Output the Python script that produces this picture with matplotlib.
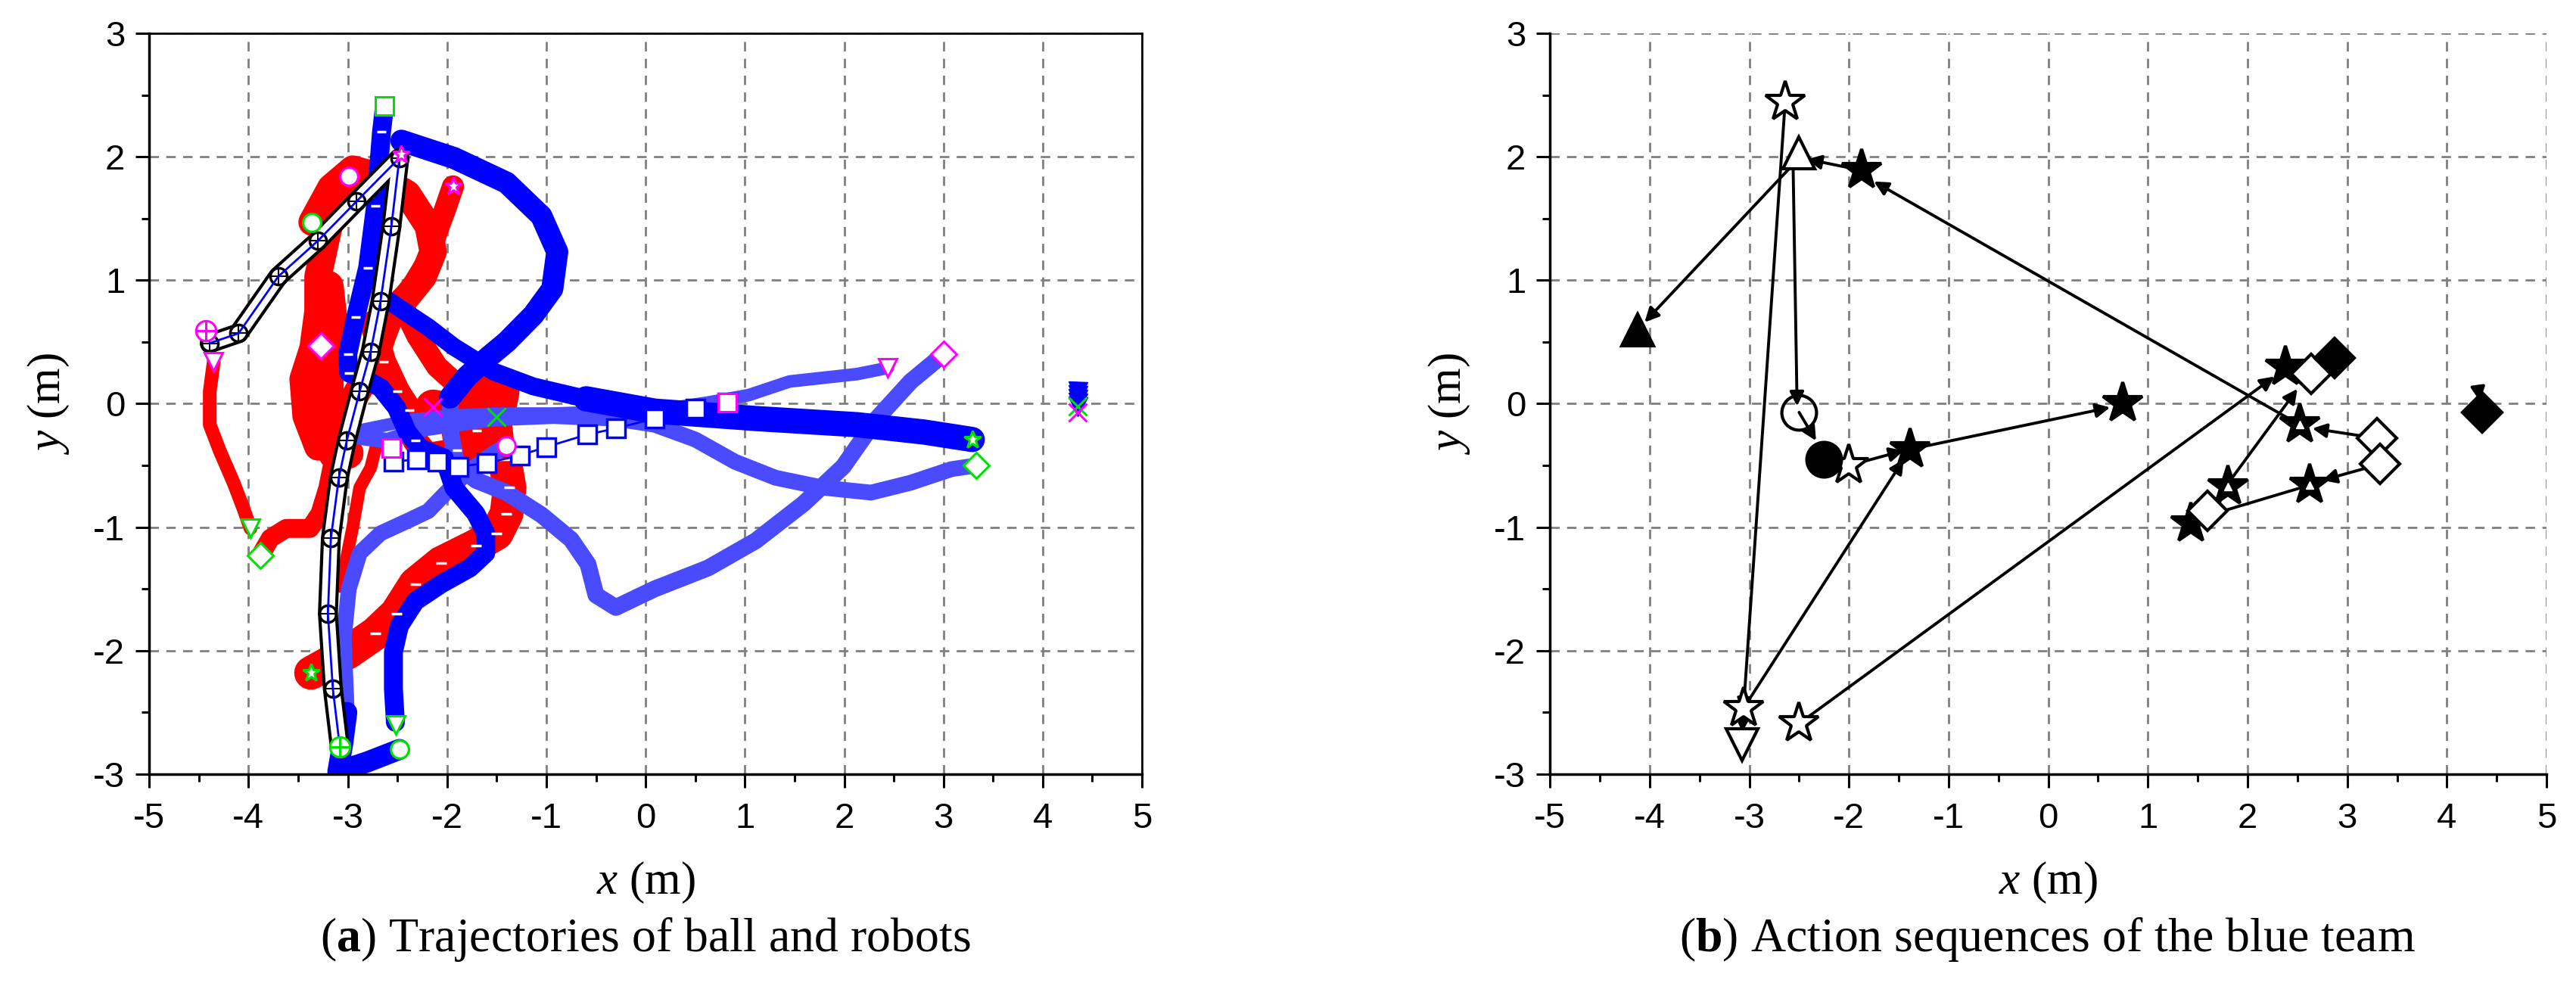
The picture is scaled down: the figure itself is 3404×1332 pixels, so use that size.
import numpy as np
import matplotlib
matplotlib.use("Agg")
import matplotlib.pyplot as plt
from matplotlib.ticker import MultipleLocator

plt.rcParams['font.family'] = ['Liberation Sans', 'DejaVu Sans']
plt.rcParams['axes.unicode_minus'] = False
plt.rcParams['mathtext.fontset'] = 'custom'
plt.rcParams['mathtext.rm'] = 'Liberation Serif'
plt.rcParams['mathtext.it'] = 'Liberation Serif:italic'
plt.rcParams['mathtext.bf'] = 'Liberation Serif:bold'

# ---------------- (a) trajectories ----------------
# red team
red_tri = [(-4.35, 0.34), (-4.39, 0.1), (-4.39, -0.17), (-4.29, -0.38), (-4.15, -0.64),
           (-4.05, -0.85), (-3.98, -1.01)]
red_dia = [(-3.88, -1.23), (-3.78, -1.09), (-3.62, -1.01), (-3.38, -1.01), (-3.28, -0.89),
           (-3.20, -0.68), (-3.15, -0.48), (-3.3, -0.3), (-3.4, 0.0), (-3.38, 0.3), (-3.27, 0.47)]
red_cir = [(-3.36, 1.47), (-3.17, 1.75), (-2.95, 1.9), (-2.72, 1.85), (-2.40, 1.70), (-2.19, 1.44),
           (-2.14, 1.23), (-2.24, 1.03), (-2.40, 0.87), (-2.56, 0.74), (-2.65, 0.55), (-2.75, 0.3),
           (-2.9, 0.1), (-3.1, -0.2), (-3.3, -0.35), (-3.42, -0.1), (-3.45, 0.2), (-3.35, 0.45),
           (-3.3, 0.75), (-3.3, 1.03), (-3.2, 1.4), (-3.1, 1.7), (-2.99, 1.84)]
red_blob = [(-3.2, 0.95), (-3.15, 0.6), (-3.2, 0.2), (-3.2, -0.2), (-3.0, -0.4)]
red_star_low = [(-3.37, -2.18), (-2.99, -2.01), (-2.72, -1.86), (-2.51, -1.70), (-2.32, -1.46),
                (-2.06, -1.29), (-1.71, -1.15), (-1.50, -1.05), (-1.40, -0.89), (-1.37, -0.68),
                (-1.42, -0.45)]
red_star_up = [(-1.42, -0.45), (-1.45, -0.2), (-1.6, 0.0), (-1.85, 0.12), (-2.1, 0.3), (-2.3, 0.55),
               (-2.45, 0.8), (-2.35, 0.95), (-2.2, 1.15), (-2.1, 1.4), (-2.03, 1.55), (-1.94, 1.76)]
red_sq = [(-2.75, 0.65), (-2.64, 0.34), (-2.5, 0.1), (-2.38, -0.05), (-2.32, -0.3), (-2.2, -0.42),
          (-1.9, -0.38), (-1.7, -0.22)]
red_plus = [(-3.07, -1.48), (-2.95, -1.0), (-2.88, -0.68), (-2.77, -0.52), (-2.7, -0.3)]
red_x = [(-1.50, -0.11), (-1.45, 0.1), (-1.6, 0.15), (-1.8, 0.1), (-1.9, -0.1), (-1.85, -0.35),
         (-1.7, -0.42), (-1.55, -0.3), (-1.75, -0.1), (-2.14, -0.03)]

# blue team
blue_loop = [(-2.46, 2.13), (-1.93, 1.99), (-1.40, 1.79), (-1.05, 1.52), (-0.89, 1.23), (-0.94, 0.93),
             (-1.13, 0.72), (-1.40, 0.50), (-1.58, 0.38), (-1.8, 0.22), (-1.97, 0.05)]
blue_dia = [(-1.97, 0.05), (-1.96, -0.25), (-1.90, -0.5), (-1.71, -0.62), (-1.4, -0.72), (-1.05, -0.9),
            (-0.75, -1.1), (-0.58, -1.3), (-0.50, -1.55), (-0.3, -1.65), (0.09, -1.50), (0.63, -1.33),
            (1.11, -1.11), (1.59, -0.81), (1.99, -0.51), (2.33, -0.12), (2.67, 0.18), (3.0, 0.40)]
blue_star_a = [(-2.62, 0.85), (-2.19, 0.62), (-1.93, 0.46), (-1.53, 0.26), (-1.13, 0.14), (-0.60, 0.04)]
blue_star_b = [(-0.60, 0.04), (0.09, -0.06), (1.11, -0.12), (2.13, -0.17), (2.81, -0.23), (3.29, -0.29)]
blue_sq = [(-2.63, 2.41), (-2.66, 2.2), (-2.72, 1.6), (-2.80, 1.1), (-2.92, 0.7), (-3.0, 0.4),
           (-2.99, 0.25), (-2.83, 0.2), (-2.67, 0.13), (-2.51, -0.03), (-2.40, -0.23), (-2.27, -0.36),
           (-2.03, -0.44), (-1.93, -0.68), (-1.71, -0.89), (-1.61, -1.05), (-1.61, -1.21), (-1.77, -1.33),
           (-2.06, -1.46), (-2.32, -1.60), (-2.48, -1.80), (-2.54, -2.01), (-2.54, -2.31), (-2.52, -2.58)]
blue_cir = [(-3.01, -2.5), (-3.04, -1.9), (-2.99, -1.50), (-2.88, -1.21), (-2.67, -1.05), (-2.40, -0.95),
            (-2.19, -0.87), (-2.01, -0.72), (-1.77, -0.54), (-1.53, -0.40), (-1.40, -0.34)]
blue_bot = [(-2.48, -2.80), (-2.8, -2.9), (-3.1, -2.98), (-3.05, -2.75), (-3.01, -2.5)]
blue_bigsq = [(0.82, 0.01), (0.5, -0.04), (0.09, -0.12), (-0.3, -0.2), (-0.59, -0.25), (-1.0, -0.35),
              (-1.27, -0.42), (-1.6, -0.48), (-1.88, -0.51), (-2.1, -0.47), (-2.3, -0.45), (-2.54, -0.47)]
blue_tri = [(2.44, 0.29), (2.13, 0.24), (1.45, 0.18), (1.04, 0.07), (0.63, 0.01), (0.22, -0.04),
            (-0.25, -0.06), (-0.93, -0.08), (-1.54, -0.08), (-2.0, -0.1), (-2.35, -0.13), (-2.72, -0.19),
            (-2.9, -0.22)]
blue_dia2 = [(3.33, -0.50), (3.08, -0.53), (2.67, -0.64), (2.27, -0.72), (1.79, -0.68), (1.31, -0.60),
             (0.90, -0.47), (0.50, -0.29), (0.09, -0.17), (-0.32, -0.12), (-0.93, -0.10), (-1.54, -0.12),
             (-2.22, -0.2), (-2.6, -0.3), (-2.88, -0.27)]
goalie_y = [0.10, 0.07, 0.04, 0.01, -0.02]
goalie_x = 4.35

ball = [(-4.39, 0.49), (-4.10, 0.57), (-3.70, 1.03), (-3.30, 1.32), (-2.91, 1.64), (-2.48, 1.99),
        (-2.56, 1.44), (-2.67, 0.83), (-2.77, 0.42), (-2.88, 0.1), (-3.01, -0.3), (-3.09, -0.6),
        (-3.17, -1.09), (-3.20, -1.70), (-3.15, -2.31), (-3.08, -2.78)]

# start (green) / end (magenta) marks: (x, y, marker)
green_marks = [(-3.98, -1.01, 'v'), (-3.88, -1.23, 'D'), (-3.36, 1.47, 'o'), (-3.37, -2.18, '*'),
               (-1.50, -0.11, 'x'), (-2.63, 2.41, 's'), (3.29, -0.29, '*'), (3.33, -0.50, 'D'),
               (-2.52, -2.60, 'v'), (-2.48, -2.80, 'o'), (4.35, -0.02, 'x')]
magenta_marks = [(-4.35, 0.34, 'v'), (-3.27, 0.47, 'D'), (-2.99, 1.84, 'o'), (-1.94, 1.76, '*'),
                 (-2.14, -0.03, 'x'), (3.0, 0.40, 'D'), (2.44, 0.29, 'v'), (0.82, 0.01, 's'),
                 (-2.56, -0.36, 's'), (-1.40, -0.34, 'o'), (-2.46, 2.02, '*'), (4.35, -0.07, 'x')]
ball_start = (-3.08, -2.78)
ball_end = (-4.43, 0.59)

# ---------------- (b) action sequences ----------------
star_open = [(-2.64, 2.44), (-2.0, -0.50), (-3.06, -2.47), (-2.50, -2.59)]
star_fill = [(-1.87, 1.89), (-1.39, -0.37), (0.75, 0.0), (2.38, 0.30), (2.52, -0.17),
             (2.62, -0.66), (1.80, -0.67), (1.43, -0.97)]
star_inner = [(2.52, -0.17), (2.62, -0.66), (1.80, -0.67)]
tri_open = [(-2.50, 2.03)]
tri_fill = [(-4.12, 0.60)]
circ_open = [(-2.50, -0.07)]
circ_fill = [(-2.25, -0.45)]
tri_down_open = [(-3.07, -2.76)]
dia_open = [(2.64, 0.24), (3.30, -0.28), (3.33, -0.49), (1.60, -0.87)]
dia_fill = [(2.87, 0.37), (4.35, -0.07)]
# arrows: (x_from, y_from, x_to, y_to)
moves = [(-2.64, 2.44, -3.06, -2.50), (-2.56, 1.92, -2.52, -0.02), (-2.58, 1.92, -4.05, 0.66),
         (-1.87, 1.89, -2.42, 1.98), (2.52, -0.17, -1.75, 1.80), (-3.06, -2.47, -1.45, -0.45),
         (-2.0, -0.50, -1.45, -0.38), (-1.39, -0.37, 0.62, -0.03), (-2.50, -2.59, 2.27, 0.22),
         (3.30, -0.28, 2.65, -0.20), (3.33, -0.49, 2.75, -0.62), (2.62, -0.66, 1.50, -0.93),
         (1.60, -0.87, 2.50, 0.12), (-2.50, -0.07, -2.33, -0.30), (-3.06, -2.47, -3.07, -2.66),
         (4.31, 0.14, 4.33, 0.02), (1.60, -0.87, 1.76, -0.74)]


fig = plt.figure(figsize=(34.05, 13.32), dpi=100)
axa = fig.add_axes([0.0579, 0.232, 0.3853, 0.735])
axb = fig.add_axes([0.6015, 0.232, 0.3868, 0.735])

LB = '#0000ff'
LL = '#4a4aff'


def band(ax, pts, color, lw, z=2):
    p = np.array(pts)
    ax.plot(p[:, 0], p[:, 1], '-', color=color, lw=lw, solid_capstyle='round',
            solid_joinstyle='round', zorder=z)


def dots(ax, pts, color, marker, ms, z=3, mfc='none', mew=1.5):
    p = np.array(pts)
    ax.plot(p[:, 0], p[:, 1], ls='none', marker=marker, ms=ms, mec=color, mfc=mfc, mew=mew, zorder=z)


# red team
band(axa, red_cir, 'red', 26)
band(axa, red_blob, 'red', 30)
band(axa, red_dia, 'red', 18)
band(axa, red_tri, 'red', 13)
band(axa, red_star_low, 'red', 32)
band(axa, red_star_up, 'red', 21)
band(axa, red_sq, 'red', 24)
dots(axa, red_sq, 'white', '_', 9, z=3, mew=2.5)
band(axa, red_plus, 'red', 12)
band(axa, red_x, 'red', 34)
dots(axa, red_star_low[2:], 'white', '_', 10, z=3, mew=2.5)

# blue team
band(axa, blue_dia, LL, 16)
band(axa, blue_dia2, LL, 15)
band(axa, blue_tri, LL, 12)
band(axa, blue_cir, LL, 15)
band(axa, blue_loop, LB, 21)
band(axa, blue_star_a, LB, 17)
band(axa, blue_star_b, LB, 24)
band(axa, blue_sq, LB, 18)
dots(axa, blue_sq[1:7], 'white', '_', 9, z=3, mew=2.5)
band(axa, blue_bot, LB, 20)
p = np.array(blue_bigsq)
axa.plot(p[:, 0], p[:, 1], '-', color=LB, lw=2, zorder=3)
axa.plot(p[:, 0], p[:, 1], ls='none', marker='s', ms=17, mfc='white', mec=LB, mew=2.5, zorder=3)
axa.plot([goalie_x] * len(goalie_y), goalie_y, ls='none', marker='v', ms=18, color=LB, zorder=3)

# ball
p = np.array(ball)
axa.plot(p[:, 0], p[:, 1], '-', color='black', lw=19, solid_capstyle='round', zorder=4)
axa.plot(p[:, 0], p[:, 1], '-', color='white', lw=13, solid_capstyle='round', zorder=4)
axa.plot(p[:, 0], p[:, 1], ls='none', marker='o', ms=16, mfc='none', mec='black', mew=2.5, zorder=4)
axa.plot(p[:, 0], p[:, 1], ls='none', marker='+', ms=14, color='black', mew=1.5, zorder=4)
axa.plot(p[:, 0], p[:, 1], '-', color=LB, lw=2, zorder=4)

for x, y, m in green_marks:
    axa.plot(x, y, marker=m, ms=17, mfc='white', mec='#00e000', mew=2.2, zorder=5)
for x, y, m in magenta_marks:
    axa.plot(x, y, marker=m, ms=17, mfc='white', mec='#ff00ff', mew=2.2, zorder=5)
for (x, y), c in [(ball_start, '#00e000'), (ball_end, '#ff00ff')]:
    axa.plot(x, y, marker='o', ms=19, mfc='white', mec=c, mew=2.2, zorder=5)
    axa.plot(x, y, marker='+', ms=19, mfc='none', mec=c, mew=2.2, zorder=5)

# (b)
for x0, y0, x1, y1 in moves:
    axb.annotate('', xy=(x1, y1), xytext=(x0, y0),
                 arrowprops=dict(arrowstyle='-|>', color='black', lw=2.8, mutation_scale=28,
                                 shrinkA=0, shrinkB=0), zorder=2)
dots(axb, star_open, 'black', '*', 40, z=4, mfc='white', mew=3)
dots(axb, star_fill, 'black', '*', 40, z=4, mfc='black', mew=3)
dots(axb, star_inner, 'white', '^', 7, z=5, mfc='white', mew=1)
dots(axb, tri_open, 'black', '^', 30, z=4, mfc='white', mew=3)
dots(axb, tri_fill, 'black', '^', 30, z=4, mfc='black', mew=3)
dots(axb, circ_open, 'black', 'o', 33, z=4, mfc='none', mew=3)
dots(axb, circ_fill, 'black', 'o', 33, z=4, mfc='black', mew=3)
dots(axb, tri_down_open, 'black', 'v', 30, z=4, mfc='white', mew=3)
dots(axb, dia_open, 'black', 'D', 26, z=4, mfc='white', mew=3)
dots(axb, dia_fill, 'black', 'D', 26, z=4, mfc='black', mew=3)

for ax in (axa, axb):
    ax.set_xlim(-5, 5)
    ax.set_ylim(-3, 3)
    ax.xaxis.set_major_locator(MultipleLocator(1))
    ax.yaxis.set_major_locator(MultipleLocator(1))
    ax.xaxis.set_minor_locator(MultipleLocator(0.5))
    ax.yaxis.set_minor_locator(MultipleLocator(0.5))
    ax.grid(True, which='major', color='#808080', ls=(0, (4.5, 3.5)), lw=2)
    ax.set_axisbelow(True)
    ax.tick_params(which='major', direction='out', length=13, width=2.2, labelsize=34, pad=10,
                   top=False, right=False)
    ax.tick_params(which='minor', direction='out', length=7, width=2.2, top=False, right=False)
    ax.tick_params(axis='x', which='major', pad=14)
    ax.set_xlabel('$x$ (m)', fontsize=44, family='Liberation Serif', va='center')
    ax.set_ylabel('$y$ (m)', fontsize=44, family='Liberation Serif', va='center')
    ax.xaxis.set_label_coords(0.5, -0.146)
    ax.yaxis.set_label_coords(-0.101, 0.5)
    ax.spines['left'].set_linewidth(2.5)
    ax.spines['bottom'].set_linewidth(2.5)

axa.spines['top'].set_linewidth(2)
axa.spines['right'].set_linewidth(2)
axb.spines['top'].set_visible(False)
axb.spines['right'].set_visible(False)

fig.text(0.2505, 0.0676, r'($\mathbf{a}$) Trajectories of ball and robots', fontsize=46,
         family='Liberation Serif', ha='center', va='center')
fig.text(0.7947, 0.0676, r'($\mathbf{b}$) Action sequences of the blue team', fontsize=46,
         family='Liberation Serif', ha='center', va='center')

fig.savefig('out.png', dpi=100)
